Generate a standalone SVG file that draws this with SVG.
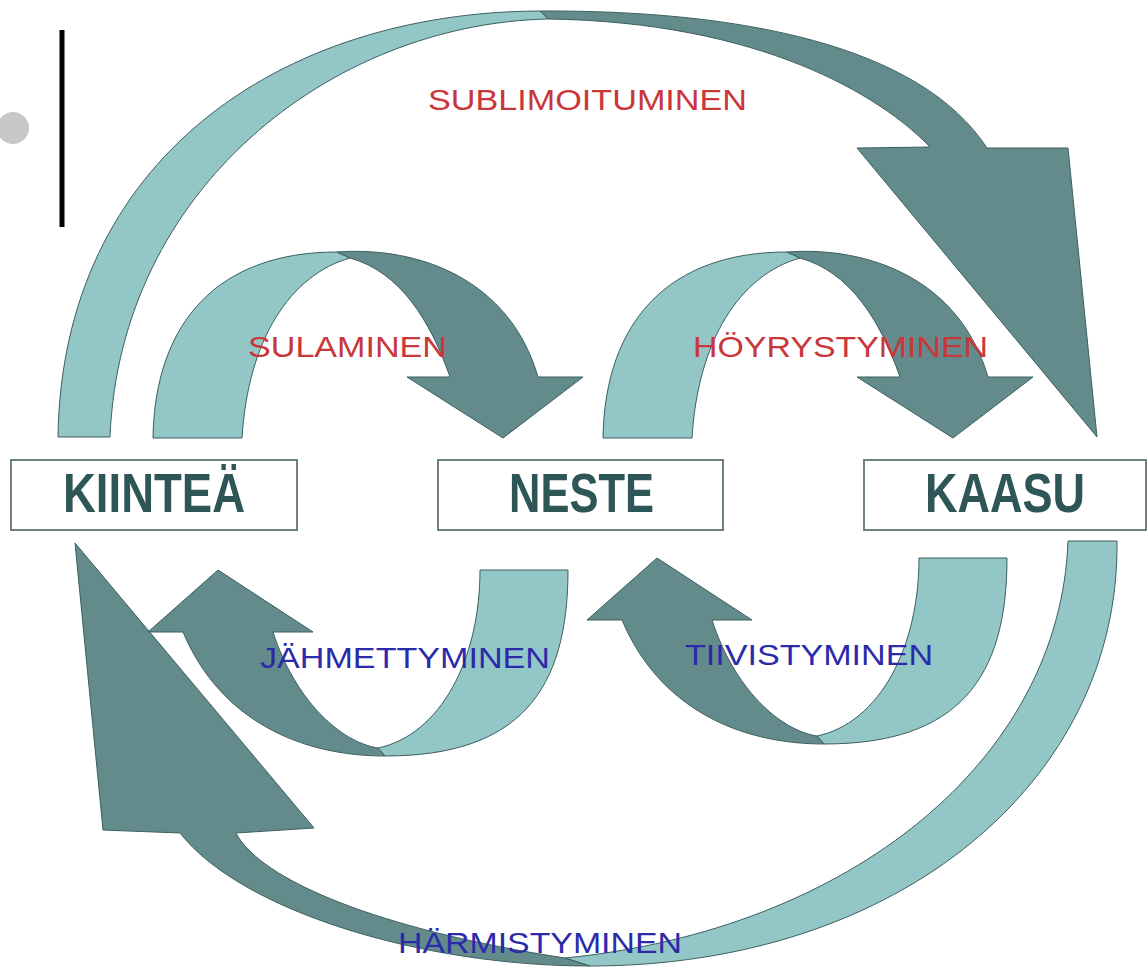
<svg xmlns="http://www.w3.org/2000/svg" xmlns:xlink="http://www.w3.org/1999/xlink" width="1147" height="967" viewBox="0 0 1147 967">
<style>
.lt{fill:#92c6c7;stroke:#3d5f5f;stroke-width:1}
.dk{fill:#638b8b;stroke:#3d5f5f;stroke-width:1}
.box{fill:#ffffff;stroke:#6d8080;stroke-width:2}
.node{font-family:"Liberation Sans",Arial,sans-serif;font-weight:bold;font-size:56px;fill:#2f5656}
.red{font-family:"Liberation Sans",Arial,sans-serif;font-size:29px;fill:#c9373a}
.blue{font-family:"Liberation Sans",Arial,sans-serif;font-size:30px;fill:#2b2baa}
</style>
<defs>
<g id="upArrow">
<path class="lt" d="M153,438 C155,320 220,252 337,252 L350,258 C290,275 248,340 242,438 Z"/>
<path class="dk" d="M337,252 C420,246 510,280 538,377 L583,377 L503,438 L407,377 L450,377 C430,320 400,272 350,258 Z"/>
</g>
<g id="downArrow">
<path class="lt" d="M568,570 C568,690 520,756 385,756 L378,748 C440,735 480,660 480,570 Z"/>
<path class="dk" d="M385,756 C300,756 220,720 183,632 L148,632 L218,570 L313,632 L273,632 C295,700 340,742 378,748 Z"/>
</g>
</defs>
<rect width="1147" height="967" fill="#ffffff"/>
<circle cx="13" cy="128" r="16" fill="#c8c8c8"/>
<line x1="62" y1="30" x2="62" y2="227" stroke="#000000" stroke-width="5"/>
<g id="connectors">
<g id="sublimoituminen">
<path class="lt" d="M58,437 C62,160 280,12 540,11 L548,19 C330,24 120,190 110,437 Z"/>
<path class="dk" d="M540,11 C740,10 920,45 987,148 L1068,148 L1097,437 L857,148 L930,147 C880,95 760,22 548,19 Z"/>
</g>
<g id="harmistyminen">
<path class="lt" d="M1117,541 C1120,780 900,966 590,966 L565,958 C850,930 1060,760 1068,541 Z"/>
<path class="dk" d="M590,966 C420,966 240,910 180,833 L103,830 L75,543 L314,828 L236,833 C260,880 380,930 565,958 Z"/>
</g>
<use id="sulaminen" xlink:href="#upArrow"/>
<use id="hoyrystyminen" xlink:href="#upArrow" transform="translate(450,0)"/>
<use id="jahmettyminen" xlink:href="#downArrow"/>
<use id="tiivistyminen" xlink:href="#downArrow" transform="translate(439,-12)"/>
<text class="red" x="428" y="110" textLength="319" lengthAdjust="spacingAndGlyphs">SUBLIMOITUMINEN</text>
<text class="red" x="248" y="357" textLength="199" lengthAdjust="spacingAndGlyphs">SULAMINEN</text>
<text class="red" x="693" y="357" textLength="295" lengthAdjust="spacingAndGlyphs">HÖYRYSTYMINEN</text>
<text class="blue" x="260" y="668" textLength="290" lengthAdjust="spacingAndGlyphs">JÄHMETTYMINEN</text>
<text class="blue" x="685" y="665" textLength="248" lengthAdjust="spacingAndGlyphs">TIIVISTYMINEN</text>
<text class="blue" x="398" y="953" textLength="284" lengthAdjust="spacingAndGlyphs">HÄRMISTYMINEN</text>
</g>
<g id="kiintea">
<rect class="box" x="11" y="460" width="286" height="70"/>
<text class="node" x="63" y="512" textLength="182" lengthAdjust="spacingAndGlyphs">KIINTEÄ</text>
</g>
<g id="neste">
<rect class="box" x="438" y="460" width="285" height="70"/>
<text class="node" x="509" y="512" textLength="145" lengthAdjust="spacingAndGlyphs">NESTE</text>
</g>
<g id="kaasu">
<rect class="box" x="864" y="460" width="282" height="70"/>
<text class="node" x="925" y="512" textLength="160" lengthAdjust="spacingAndGlyphs">KAASU</text>
</g>
</svg>
